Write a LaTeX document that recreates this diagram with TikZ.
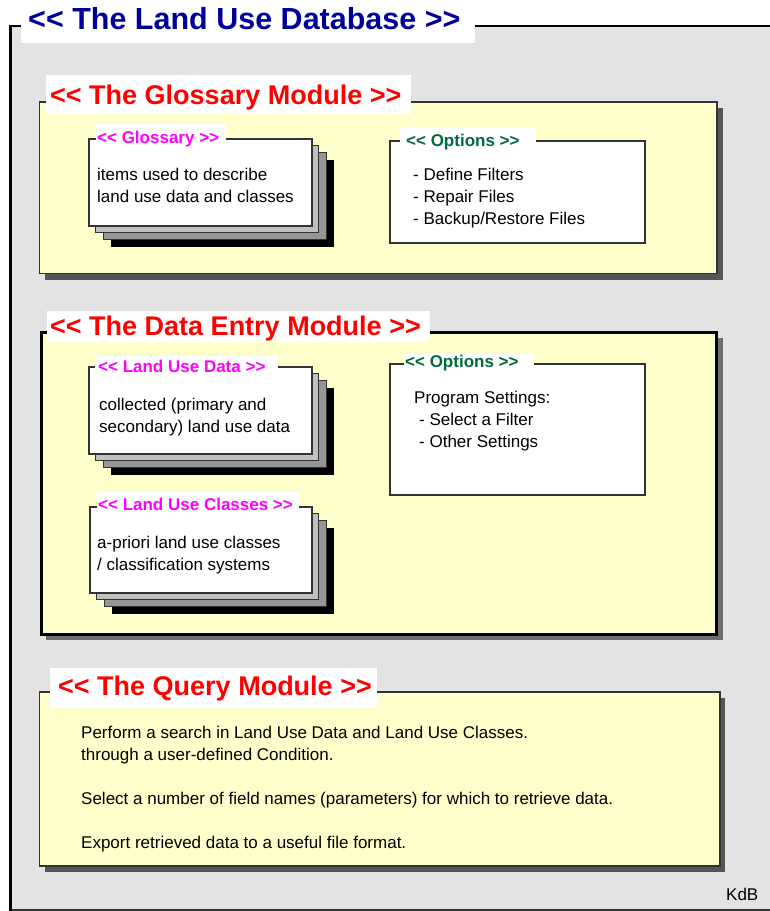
\documentclass[tikz,border=0pt]{standalone}
\usepackage{fontspec}
\setmainfont{Liberation Sans}[Ligatures=TeXOff]
\definecolor{bggray}{HTML}{E3E3E3}
\definecolor{lightyellow}{HTML}{FFFFCC}
\definecolor{navytitle}{HTML}{000099}
\definecolor{optgreen}{HTML}{006B3C}
\definecolor{boxedge}{HTML}{333333}
\definecolor{shadowgray}{HTML}{555555}
\definecolor{stackA}{HTML}{C0C0C0}
\definecolor{stackB}{HTML}{969696}
\definecolor{labelmagenta}{HTML}{FF00FF}
\definecolor{titlered}{HTML}{FF0000}
\tikzset{
  bodytext/.style={anchor=base west, inner sep=0pt, font=\fontsize{17}{22}\selectfont, text=black},
  modtitle/.style={anchor=base west, inner sep=0pt, font=\bfseries\fontsize{27}{30}\selectfont, text=titlered},
  sublabel/.style={anchor=base west, inner sep=0pt, font=\bfseries\fontsize{17}{20}\selectfont, text=labelmagenta},
  optlabel/.style={anchor=base west, inner sep=0pt, font=\bfseries\fontsize{17}{20}\selectfont, text=optgreen},
  modbox/.style={fill=lightyellow, draw=boxedge, line width=1.2pt},
  modshadow/.style={fill=shadowgray},
  whitebox/.style={fill=white, draw=boxedge, line width=1.2pt},
  layerA/.style={fill=stackA, draw=boxedge, line width=1pt},
  layerB/.style={fill=stackB, draw=boxedge, line width=1pt},
  layerC/.style={fill=black},
  labelbg/.style={fill=white}
}
\newcommand{\docstack}[4]{%
  \fill[layerC] ([shift={(22,21)}]#1,#2) rectangle ([shift={(22,21)}]#3,#4);
  \draw[layerB] ([shift={(14,13)}]#1,#2) rectangle ([shift={(14,13)}]#3,#4);
  \draw[layerA] ([shift={(6,6)}]#1,#2) rectangle ([shift={(6,6)}]#3,#4);
  \draw[whitebox] (#1,#2) rectangle (#3,#4);
}
\begin{document}
\begin{tikzpicture}[x=1pt,y=-1pt]
\useasboundingbox (0,0) rectangle (770,911);
\clip (0,0) rectangle (770,911);
\fill[white] (0,0) rectangle (770,911);
% outer frame
\fill[bggray] (10.5,26) rectangle (790,909.5);
\draw[black, line width=2pt] (10.5,26) -- (790,26);
\draw[boxedge, line width=2pt] (9,910) -- (790,910);
\draw[black, line width=3pt] (10.5,25) -- (10.5,911);
\fill[labelbg] (21,4) rectangle (475,43);
\node[anchor=base west, inner sep=0pt, font=\bfseries\fontsize{30.5}{34}\selectfont, text=navytitle] (dbtitle) at (28,29) {<< The Land Use Database >>};

% ===== Glossary module =====
\fill[modshadow] (45,108) rectangle (723,279.5);
\draw[modbox] (39.5,102) rectangle (717,273.5);
\fill[labelbg] (46,75) rectangle (411,114);
\node[modtitle] (glosstitle) at (50,104) {<< The Glossary Module >>};

\docstack{89}{139}{312}{226}
\fill[labelbg] (96,124) rectangle (226,146);
\node[sublabel] (glosslabel) at (97,143) {<< Glossary >>};
\node[bodytext] (gloss1) at (97,180) {items used to describe};
\node[bodytext] (gloss2) at (97,202) {land use data and classes};

\draw[whitebox] (390,141) rectangle (645,243);
\fill[labelbg] (400,128) rectangle (536,148);
\node[optlabel] (opt1label) at (406,146) {<< Options >>};
\node[bodytext] (opt1a) at (413,180) {- Define Filters};
\node[bodytext] (opt1b) at (413,202) {- Repair Files};
\node[bodytext] (opt1c) at (413,224) {- Backup/Restore Files};

% ===== Data Entry module =====
\fill[fill=shadowgray!85] (46,338) rectangle (723,640);
\draw[fill=lightyellow, draw=black, line width=3pt] (41.5,332.5) rectangle (716.5,634.5);
\fill[labelbg] (47,311) rectangle (430,342);
\node[modtitle] (detitle) at (50,335) {<< The Data Entry Module >>};

\docstack{89}{367}{312}{454}
\fill[labelbg] (95,356) rectangle (278,377);
\node[sublabel] (ludlabel) at (98,372) {<< Land Use Data >>};
\node[bodytext] (lud1) at (99,410) {collected (primary and};
\node[bodytext] (lud2) at (99,432) {secondary) land use data};

\docstack{90}{507}{312}{593}
\fill[labelbg] (97,492) rectangle (299,513);
\node[sublabel] (luclabel) at (98,510) {<< Land Use Classes >>};
\node[bodytext] (luc1) at (97,548) {a-priori land use classes};
\node[bodytext] (luc2) at (97,570) {/ classification systems};

\draw[whitebox] (390,364) rectangle (645,495);
\fill[labelbg] (404,353) rectangle (534,372);
\node[optlabel] (opt2label) at (405,367) {<< Options >>};
\node[bodytext] (opt2a) at (414,403) {Program Settings:};
\node[bodytext] (opt2b) at (419,425) {- Select a Filter};
\node[bodytext] (opt2c) at (419,447) {- Other Settings};

% ===== Query module =====
\fill[modshadow] (45,698) rectangle (725,872);
\draw[modbox] (39.5,692) rectangle (720,866);
\fill[labelbg] (50,668) rectangle (377,708);
\node[modtitle] (qtitle) at (58,695) {<< The Query Module >>};
\node[bodytext] (q1) at (81,738) {Perform a search in Land Use Data and Land Use Classes.};
\node[bodytext] (q2) at (81,760) {through a user-defined Condition.};
\node[bodytext] (q3) at (81,804) {Select a number of field names (parameters) for which to retrieve data.};
\node[bodytext] (q4) at (81,848) {Export retrieved data to a useful file format.};

\node[bodytext] (kdb) at (726,900) {KdB};
\end{tikzpicture}
\end{document}
